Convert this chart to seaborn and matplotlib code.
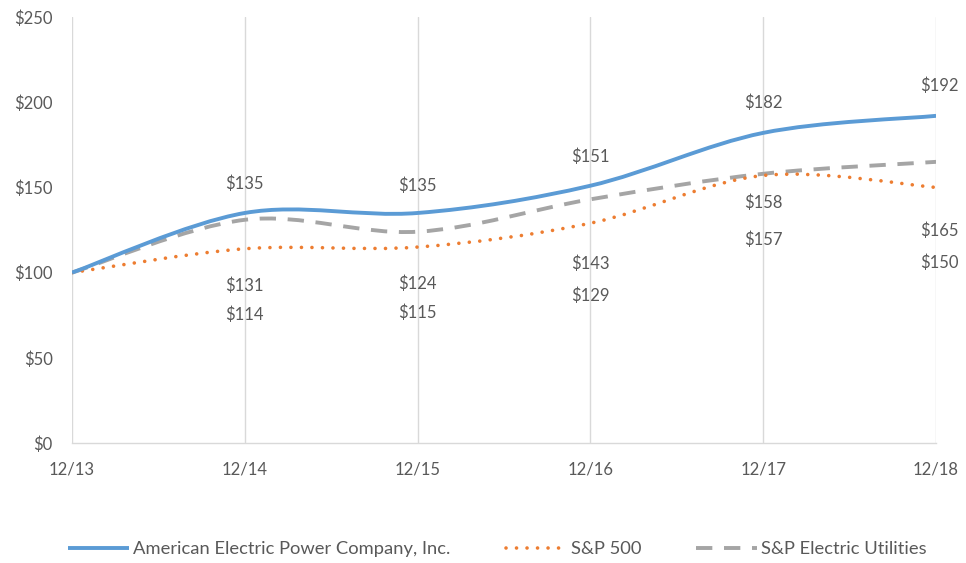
import numpy as np
import seaborn as sns
import matplotlib.pyplot as plt
from matplotlib.path import Path
from matplotlib.patches import PathPatch
from matplotlib.lines import Line2D

# data
years = ["12/13", "12/14", "12/15", "12/16", "12/17", "12/18"]
aep = [100, 135, 135, 151, 182, 192]
sp500 = [100, 114, 115, 129, 157, 150]
utilities = [100, 131, 124, 143, 158, 165]
series_names = ["American Electric Power Company, Inc.", "S&P 500", "S&P Electric Utilities"]

# label heights (in $ units) where the value labels sit on the chart
aep_label_y = [None, 152, 151, 168, 199.5, 209.5]
util_label_y = [None, 92, 93.3, 105, 141, 124.4]
sp_label_y = [None, 75, 76.3, 86.3, 119, 105.6]

sns.set_theme(style="white")
plt.rcParams['font.family'] = ['Lato', 'DejaVu Sans']
txt = "#595959"
fs = 12

fig = plt.figure(figsize=(9.66, 5.63), dpi=100)
ax = fig.add_axes([0.0745, 0.2131, 0.8945, 0.7567])


def smooth_path(xs, ys):
    # excel-like smoothed line: cubic bezier between points
    pts = np.column_stack([xs, ys]).astype(float)
    n = len(pts)
    verts = [pts[0]]
    codes = [Path.MOVETO]
    for i in range(n - 1):
        p0 = pts[i - 1] if i > 0 else pts[i]
        p1 = pts[i]
        p2 = pts[i + 1]
        p3 = pts[i + 2] if i + 2 < n else pts[i + 1]
        c1 = p1 + (p2 - p0) / 6
        c2 = p2 - (p3 - p1) / 6
        verts += [c1, c2, p2]
        codes += [Path.CURVE4] * 3
    return Path(verts, codes)


x = np.arange(len(years))
styles = [
    (aep, "#5b9bd5", 2.8, "solid", "butt"),
    (sp500, "#ed7d31", 2.6, (0, (0.01, 2.9)), "round"),
    (utilities, "#a5a5a5", 2.8, (0, (4.2, 3.0)), "butt"),
]
handles = []
for vals, color, lw, ls, cap in reversed(styles):
    patch = PathPatch(smooth_path(x, vals), facecolor="none", edgecolor=color,
                      linewidth=lw, linestyle=ls, capstyle=cap, zorder=3)
    ax.add_patch(patch)
for vals, color, lw, ls, cap in styles:
    h = Line2D([], [], color=color, linewidth=lw, linestyle=ls,
               dash_capstyle=cap, solid_capstyle="butt")
    handles.append(h)

# value labels
for i in range(1, len(years)):
    for vals, ly in [(aep, aep_label_y), (utilities, util_label_y), (sp500, sp_label_y)]:
        xi = x[i] + (0.02 if i == len(years) - 1 else 0)
        ax.text(xi, ly[i], f"${vals[i]}", ha="center", va="center",
                fontsize=fs, color=txt, zorder=4)

ax.set_xlim(0, len(years) - 1)
ax.set_ylim(0, 250)
ax.set_xticks(x)
ax.set_xticklabels(years)
ax.set_yticks(range(0, 251, 50))
ax.set_yticklabels([f"${v}" for v in range(0, 251, 50)])
ax.tick_params(axis="both", labelsize=fs, colors=txt, length=0)
ax.tick_params(axis="x", pad=13)
ax.tick_params(axis="y", pad=14)
for lbl in ax.get_yticklabels():
    lbl.set_horizontalalignment("right")

ax.grid(axis="x", color="#d9d9d9", linewidth=1)
ax.grid(axis="y", visible=False)
sns.despine(ax=ax, left=True, top=True, right=True)
ax.spines["bottom"].set_color("#d9d9d9")
ax.spines["bottom"].set_linewidth(1)

fig.legend(handles, series_names, loc="center", bbox_to_anchor=(0.515, 0.024),
           ncol=3, frameon=False, fontsize=13.2, labelcolor=txt,
           handlelength=3.3, columnspacing=3.0, handletextpad=0.25)

fig.savefig("out.png", dpi=100)
